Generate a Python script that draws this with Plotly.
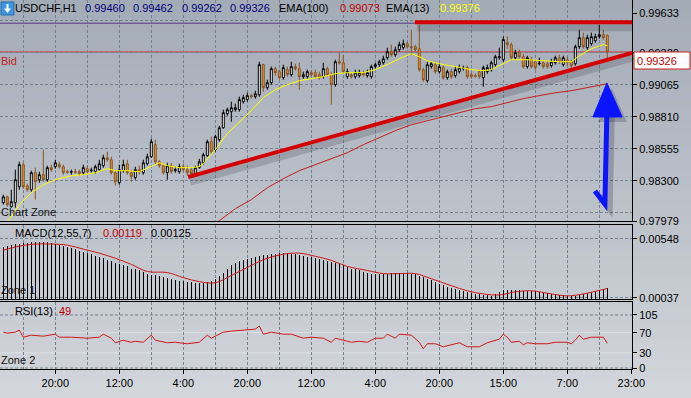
import plotly.graph_objects as go

# ---------------- data ----------------
bar_index = list(range(152))

opens = [0.98125, 0.98172, 0.98093, 0.98125, 0.98252, 0.98428, 0.98260, 0.98228, 0.98364, 0.98308,
         0.98348, 0.98308, 0.98404, 0.98412, 0.98428, 0.98412, 0.98372, 0.98368, 0.98372, 0.98372,
         0.98364, 0.98396, 0.98380, 0.98372, 0.98388, 0.98420, 0.98483, 0.98467, 0.98364, 0.98284,
         0.98380, 0.98435, 0.98364, 0.98324, 0.98388, 0.98364, 0.98435, 0.98491, 0.98587, 0.98451,
         0.98420, 0.98364, 0.98420, 0.98380, 0.98372, 0.98412, 0.98388, 0.98388, 0.98356, 0.98404,
         0.98443, 0.98499, 0.98611, 0.98547, 0.98627, 0.98722, 0.98834, 0.98850, 0.98866, 0.98866,
         0.98930, 0.98946, 0.98978, 0.98970, 0.98985, 0.99225, 0.99041, 0.99081, 0.99193, 0.99169,
         0.99121, 0.99185, 0.99145, 0.99209, 0.99193, 0.99129, 0.99129, 0.99161, 0.99161, 0.99145,
         0.99129, 0.99193, 0.99145, 0.99065, 0.99248, 0.99240, 0.99129, 0.99145, 0.99129, 0.99137,
         0.99161, 0.99137, 0.99129, 0.99209, 0.99225, 0.99240, 0.99280, 0.99328, 0.99304, 0.99344,
         0.99360, 0.99392, 0.99368, 0.99368, 0.99352, 0.99185, 0.99097, 0.99209, 0.99225, 0.99169,
         0.99201, 0.99121, 0.99169, 0.99137, 0.99169, 0.99193, 0.99201, 0.99145, 0.99137, 0.99169,
         0.99121, 0.99169, 0.99185, 0.99225, 0.99280, 0.99264, 0.99400, 0.99384, 0.99280, 0.99320,
         0.99288, 0.99209, 0.99264, 0.99248, 0.99232, 0.99240, 0.99232, 0.99217, 0.99240, 0.99280,
         0.99225, 0.99264, 0.99248, 0.99232, 0.99368, 0.99440, 0.99360, 0.99392, 0.99416, 0.99448,
         0.99464, 0.99460]

highs = [0.98188, 0.98180, 0.98228, 0.98388, 0.98451, 0.98443, 0.98276, 0.98380, 0.98404, 0.98372,
         0.98547, 0.98420, 0.98428, 0.98467, 0.98451, 0.98428, 0.98388, 0.98388, 0.98396, 0.98388,
         0.98428, 0.98420, 0.98404, 0.98428, 0.98467, 0.98507, 0.98531, 0.98491, 0.98388, 0.98428,
         0.98467, 0.98467, 0.98388, 0.98412, 0.98420, 0.98467, 0.98515, 0.98635, 0.98627, 0.98467,
         0.98435, 0.98443, 0.98443, 0.98412, 0.98435, 0.98435, 0.98420, 0.98404, 0.98420, 0.98475,
         0.98523, 0.98627, 0.98651, 0.98667, 0.98738, 0.98866, 0.98882, 0.98930, 0.98914, 0.98970,
         0.98985, 0.99001, 0.98993, 0.99017, 0.99248, 0.99232, 0.99105, 0.99209, 0.99209, 0.99185,
         0.99225, 0.99209, 0.99248, 0.99232, 0.99240, 0.99169, 0.99185, 0.99177, 0.99185, 0.99169,
         0.99240, 0.99209, 0.99169, 0.99264, 0.99320, 0.99304, 0.99193, 0.99161, 0.99185, 0.99185,
         0.99177, 0.99185, 0.99225, 0.99240, 0.99264, 0.99296, 0.99360, 0.99384, 0.99368, 0.99408,
         0.99424, 0.99408, 0.99503, 0.99384, 0.99543, 0.99201, 0.99248, 0.99248, 0.99248, 0.99232,
         0.99217, 0.99185, 0.99193, 0.99209, 0.99225, 0.99217, 0.99217, 0.99161, 0.99153, 0.99185,
         0.99217, 0.99225, 0.99256, 0.99304, 0.99360, 0.99448, 0.99448, 0.99400, 0.99344, 0.99344,
         0.99312, 0.99296, 0.99288, 0.99264, 0.99280, 0.99256, 0.99256, 0.99272, 0.99296, 0.99304,
         0.99296, 0.99288, 0.99264, 0.99384, 0.99503, 0.99480, 0.99464, 0.99480, 0.99472, 0.99543,
         0.99503, 0.99462]

lows = [0.98109, 0.98093, 0.98085, 0.98085, 0.98228, 0.98236, 0.98212, 0.98212, 0.98149, 0.98284,
        0.98292, 0.98292, 0.98372, 0.98396, 0.98396, 0.98348, 0.98356, 0.98348, 0.98356, 0.98340,
        0.98348, 0.98356, 0.98364, 0.98356, 0.98380, 0.98404, 0.98451, 0.98348, 0.98260, 0.98268,
        0.98364, 0.98348, 0.98292, 0.98308, 0.98348, 0.98348, 0.98420, 0.98483, 0.98435, 0.98404,
        0.98348, 0.98308, 0.98356, 0.98364, 0.98356, 0.98372, 0.98340, 0.98340, 0.98348, 0.98396,
        0.98428, 0.98491, 0.98515, 0.98531, 0.98611, 0.98714, 0.98818, 0.98770, 0.98850, 0.98850,
        0.98914, 0.98930, 0.98954, 0.98954, 0.98970, 0.99009, 0.99025, 0.99065, 0.99137, 0.99105,
        0.99105, 0.99129, 0.99129, 0.99177, 0.99025, 0.99113, 0.99113, 0.99129, 0.99113, 0.99105,
        0.99113, 0.99129, 0.98906, 0.99049, 0.99225, 0.99153, 0.99113, 0.99113, 0.99113, 0.99121,
        0.99129, 0.99121, 0.99113, 0.99193, 0.99209, 0.99225, 0.99264, 0.99288, 0.99288, 0.99328,
        0.99344, 0.99352, 0.99304, 0.99328, 0.99169, 0.99089, 0.99081, 0.99193, 0.99153, 0.99153,
        0.99105, 0.99105, 0.99113, 0.99121, 0.99153, 0.99177, 0.99113, 0.99113, 0.99121, 0.99113,
        0.99049, 0.99153, 0.99169, 0.99209, 0.99264, 0.99248, 0.99352, 0.99264, 0.99264, 0.99272,
        0.99193, 0.99193, 0.99193, 0.99185, 0.99217, 0.99193, 0.99193, 0.99201, 0.99225, 0.99232,
        0.99209, 0.99217, 0.99201, 0.99217, 0.99352, 0.99352, 0.99344, 0.99376, 0.99400, 0.99432,
        0.99424, 0.99262]

closes = [0.98172, 0.98109, 0.98133, 0.98308, 0.98428, 0.98252, 0.98228, 0.98364, 0.98292, 0.98348,
          0.98308, 0.98404, 0.98388, 0.98443, 0.98412, 0.98364, 0.98368, 0.98372, 0.98368, 0.98356,
          0.98404, 0.98372, 0.98384, 0.98412, 0.98435, 0.98483, 0.98467, 0.98364, 0.98292, 0.98388,
          0.98428, 0.98364, 0.98332, 0.98388, 0.98372, 0.98443, 0.98491, 0.98611, 0.98451, 0.98420,
          0.98364, 0.98420, 0.98372, 0.98388, 0.98412, 0.98388, 0.98364, 0.98356, 0.98404, 0.98451,
          0.98507, 0.98611, 0.98531, 0.98651, 0.98722, 0.98842, 0.98866, 0.98882, 0.98882, 0.98946,
          0.98962, 0.98978, 0.98970, 0.98993, 0.99225, 0.99041, 0.99081, 0.99193, 0.99161, 0.99121,
          0.99201, 0.99145, 0.99209, 0.99193, 0.99129, 0.99145, 0.99169, 0.99145, 0.99129, 0.99121,
          0.99193, 0.99145, 0.99065, 0.99248, 0.99240, 0.99169, 0.99169, 0.99129, 0.99161, 0.99161,
          0.99145, 0.99161, 0.99209, 0.99225, 0.99248, 0.99272, 0.99328, 0.99304, 0.99344, 0.99384,
          0.99392, 0.99368, 0.99360, 0.99344, 0.99185, 0.99105, 0.99225, 0.99232, 0.99169, 0.99209,
          0.99121, 0.99169, 0.99129, 0.99185, 0.99201, 0.99197, 0.99129, 0.99129, 0.99133, 0.99129,
          0.99201, 0.99201, 0.99240, 0.99288, 0.99288, 0.99424, 0.99384, 0.99280, 0.99320, 0.99288,
          0.99209, 0.99280, 0.99209, 0.99201, 0.99236, 0.99209, 0.99209, 0.99248, 0.99280, 0.99248,
          0.99280, 0.99240, 0.99217, 0.99368, 0.99440, 0.99368, 0.99440, 0.99448, 0.99448, 0.99464,
          0.99440, 0.99326]

ema13_bars = [0, 2, 4, 7, 10, 13, 17, 20, 23, 26, 28, 31, 34, 37, 39, 41, 44, 47, 49, 50, 53, 56, 59,
              62, 65, 68, 71, 74, 77, 80, 83, 86, 90, 93, 96, 99, 102, 104, 106, 109, 113, 117, 120,
              122, 124, 127, 131, 134, 139, 142, 144, 147, 149, 150, 151]
ema13_values = [0.97939, 0.98013, 0.98109, 0.98204, 0.98268, 0.98308, 0.98340, 0.98348, 0.98364,
                0.98396, 0.98380, 0.98380, 0.98372, 0.98412, 0.98443, 0.98420, 0.98404, 0.98404,
                0.98412, 0.98435, 0.98547, 0.98675, 0.98770, 0.98858, 0.98962, 0.99025, 0.99065,
                0.99097, 0.99113, 0.99129, 0.99153, 0.99161, 0.99161, 0.99185, 0.99225, 0.99272,
                0.99312, 0.99288, 0.99256, 0.99232, 0.99209, 0.99185, 0.99177, 0.99185, 0.99217,
                0.99264, 0.99264, 0.99256, 0.99248, 0.99248, 0.99296, 0.99352, 0.99376, 0.99384,
                0.99376]

ema100_bars = [50, 54, 58, 62, 66, 70, 74, 78, 82, 86, 90, 94, 98, 102, 106, 110, 114, 118, 122,
               126, 130, 134, 138, 142, 146, 151]
ema100_values = [0.97925, 0.97981, 0.98077, 0.98149, 0.98244, 0.98316, 0.98380, 0.98428, 0.98475,
                 0.98523, 0.98587, 0.98643, 0.98699, 0.98746, 0.98778, 0.98810, 0.98842, 0.98874,
                 0.98890, 0.98922, 0.98954, 0.98978, 0.99001, 0.99017, 0.99041, 0.99073]

macd_hist = [0.00478, 0.00486, 0.00495, 0.00504, 0.00504, 0.00513, 0.00513, 0.00522,
             0.00522, 0.00522, 0.00522, 0.00522, 0.00513, 0.00504, 0.00495, 0.00486,
             0.00478, 0.00469, 0.00460, 0.00442, 0.00433, 0.00425, 0.00416, 0.00398,
             0.00389, 0.00381, 0.00363, 0.00354, 0.00337, 0.00328, 0.00319, 0.00310,
             0.00292, 0.00284, 0.00275, 0.00266, 0.00248, 0.00240, 0.00240, 0.00231,
             0.00222, 0.00213, 0.00204, 0.00196, 0.00187, 0.00187, 0.00178, 0.00178,
             0.00169, 0.00169, 0.00169, 0.00178, 0.00187, 0.00204, 0.00231, 0.00257,
             0.00292, 0.00319, 0.00337, 0.00354, 0.00363, 0.00372, 0.00381, 0.00389,
             0.00398, 0.00407, 0.00407, 0.00416, 0.00416, 0.00425, 0.00425, 0.00425,
             0.00416, 0.00416, 0.00407, 0.00398, 0.00389, 0.00389, 0.00381, 0.00372,
             0.00363, 0.00354, 0.00345, 0.00337, 0.00328, 0.00319, 0.00301, 0.00292,
             0.00284, 0.00275, 0.00266, 0.00257, 0.00248, 0.00248, 0.00248, 0.00248,
             0.00248, 0.00257, 0.00257, 0.00257, 0.00257, 0.00257, 0.00248, 0.00248,
             0.00231, 0.00222, 0.00204, 0.00196, 0.00178, 0.00160, 0.00152, 0.00134,
             0.00125, 0.00116, 0.00107, 0.00099, 0.00090, 0.00081, 0.00072, 0.00072,
             0.00063, 0.00063, 0.00055, 0.00072, 0.00090, 0.00107, 0.00107, 0.00107,
             0.00107, 0.00107, 0.00099, 0.00099, 0.00099, 0.00099, 0.00090, 0.00081,
             0.00081, 0.00072, 0.00072, 0.00063, 0.00063, 0.00055, 0.00055, 0.00055,
             0.00063, 0.00072, 0.00081, 0.00090, 0.00099, 0.00107, 0.00116, 0.00125]

macd_signal_bars = [0, 4, 8, 12, 16, 20, 24, 28, 32, 36, 41, 45, 49, 53, 57, 62, 66, 70, 74, 78,
                    82, 86, 91, 95, 99, 103, 107, 112, 116, 120, 124, 128, 132, 137, 141, 145, 151]
macd_signal_values = [0.00451, 0.00486, 0.00504, 0.00504, 0.00495, 0.00460, 0.00425, 0.00381,
                      0.00328, 0.00266, 0.00257, 0.00213, 0.00178, 0.00169, 0.00231, 0.00319,
                      0.00381, 0.00416, 0.00425, 0.00398, 0.00363, 0.00310, 0.00275, 0.00248,
                      0.00248, 0.00248, 0.00204, 0.00143, 0.00099, 0.00072, 0.00063, 0.00090,
                      0.00099, 0.00072, 0.00055, 0.00072, 0.00119]

rsi_bars = [0, 1, 3, 4, 5, 7, 10, 13, 14, 17, 21, 24, 25, 27, 28, 30, 32, 33, 35, 37,
            38, 41, 43, 46, 49, 51, 52, 55, 57, 61, 63, 64, 65, 67, 70, 72, 75, 77, 80, 82,
            83, 86, 87, 89, 91, 93, 95, 96, 98, 99, 102, 104, 105, 106, 108, 110, 112, 114, 116, 119,
            121, 124, 125, 126, 127, 129, 130, 131, 133, 136, 138, 140, 141, 142, 143, 144, 145, 147, 150, 151]
rsi_values = [71, 69, 71, 75, 61, 65, 63, 67, 61, 61, 59, 61, 67, 59, 50, 55, 51, 53, 51, 65,
              55, 50, 51, 48, 51, 65, 59, 71, 73, 75, 77, 83, 67, 71, 67, 67, 59, 61, 59, 51,
              59, 53, 51, 53, 51, 59, 59, 67, 59, 67, 65, 51, 38, 48, 48, 42, 46, 50, 42, 42,
              50, 57, 67, 61, 51, 53, 46, 50, 48, 48, 51, 50, 51, 48, 55, 65, 57, 61, 61, 49]

time_tick_bars = [13, 29, 45, 61, 77, 93, 109, 125, 141, 157]
time_tick_labels = ["20:00", "12:00", "4:00", "20:00", "12:00", "4:00", "20:00", "15:00", "7:00", "23:00"]
time_grid_bars = [5, 21, 37, 53, 69, 85, 101, 117, 133, 149]

price_tick_values = [0.97979, 0.98300, 0.98555, 0.98810, 0.99065, 0.99320, 0.99633]
price_grid_values = [0.98045, 0.98300, 0.98555, 0.98810, 0.99065, 0.99320, 0.99575]
macd_tick_values = [0.00037, 0.00548]
rsi_tick_values = [0, 30, 70, 105]

symbol = "USDCHF,H1"
header_ohlc = ["0.99460", "0.99462", "0.99262", "0.99326"]
bid_price = 0.99326
ema100_last = "0.99073"
ema13_last = "0.99376"
macd_signal_last = "0.00119"
macd_hist_last = "0.00125"
rsi_last = "49"

# drawn objects (anchored in bar / price units)
resistance_price = 0.99563
resistance_start_bar = 102.9
trend_start = (46.2, 0.98330)
trend_end = (157.175, 0.99318)
arrow_hook = (147.9, 0.98218)
arrow_tail = (150.4, 0.98114)
arrow_neck = (150.9, 0.98848)
arrow_tip = (150.9, 0.99079)
arrow_base_l = (147.4, 0.98808)
arrow_base_r = (154.7, 0.98808)

# ---------------- layout geometry ----------------
W, H = 691, 398
PW, PH = 632, 369          # plot area
XR = [-0.825, 157.175]
MAIN_R = [0.97979, 0.99740]
MACD_R = [0.00028, 0.00669]
RSI_R = [-1.98, 130.7]
FONT = "Liberation Sans, Arial, sans-serif"
GRID = "#76818f"
DASH = "3px,2px"


def pxx(x):
    return x / PW


def pxy(y):
    return (PH - y) / PH


fig = go.Figure()

fig.add_trace(go.Candlestick(
    x=bar_index, open=opens, high=highs, low=lows, close=closes,
    increasing=dict(line=dict(color="#000000", width=1), fillcolor="#ffffff"),
    decreasing=dict(line=dict(color="#8a5420", width=1), fillcolor="#e8962a"),
    xaxis="x", yaxis="y", hoverinfo="skip"))
fig.add_trace(go.Scatter(x=ema100_bars, y=ema100_values, mode="lines",
                         line=dict(color="#c81e1e", width=1), xaxis="x", yaxis="y"))
fig.add_trace(go.Scatter(x=ema13_bars, y=ema13_values, mode="lines",
                         line=dict(color="#ffff00", width=1), xaxis="x", yaxis="y"))
fig.add_trace(go.Scatter(x=[], y=[], xaxis="x", yaxis="y4"))

fig.add_trace(go.Bar(x=bar_index, y=macd_hist, width=0.22, marker=dict(color="#000000", line=dict(width=0)),
                     xaxis="x2", yaxis="y2"))
fig.add_trace(go.Scatter(x=macd_signal_bars, y=macd_signal_values, mode="lines",
                         line=dict(color="#d01818", width=1, shape="spline"), xaxis="x2", yaxis="y2"))

fig.add_trace(go.Scatter(x=rsi_bars, y=rsi_values, mode="lines",
                         line=dict(color="#d01818", width=1), xaxis="x3", yaxis="y3"))

# ---------------- shapes ----------------
shapes = []
# window gradient background
N = 60
top_c = (163, 171, 183)
bot_c = (211, 214, 219)
for k in range(N):
    t = (k + 0.5) / N
    c = tuple(int(round(top_c[j] + (bot_c[j] - top_c[j]) * t)) for j in range(3))
    y0 = k * H / N
    y1 = (k + 1) * H / N + 0.5
    shapes.append(dict(type="rect", xref="paper", yref="paper", x0=0, x1=W / PW,
                       y0=pxy(y1), y1=pxy(y0), fillcolor="rgb(%d,%d,%d)" % c,
                       line=dict(width=0), layer="below"))

# RSI level lines
for lv, st in [(105, "dash"), (0, "dash"), (70, "solid"), (30, "solid")]:
    if st == "dash":
        shapes.append(dict(type="line", xref="x3", yref="y3", x0=XR[0], x1=XR[1], y0=lv, y1=lv,
                           line=dict(color=GRID, width=1, dash=DASH), layer="below"))
    else:
        shapes.append(dict(type="line", xref="x3", yref="y3", x0=XR[0], x1=XR[1], y0=lv, y1=lv,
                           line=dict(color="rgba(222,225,230,0.9)", width=1), layer="below"))

# bid line
shapes.append(dict(type="line", xref="x", yref="y", x0=XR[0], x1=XR[1], y0=bid_price, y1=bid_price,
                   line=dict(color="#d03030", width=1), layer="below"))
# purple old level
shapes.append(dict(type="line", xref="x", yref="y", x0=XR[0], x1=resistance_start_bar,
                   y0=resistance_price - 0.00008, y1=resistance_price - 0.00008,
                   line=dict(color="#5a3a8a", width=1), layer="above"))
# shadows of drawn lines
sh = "rgba(60,60,75,0.22)"
shapes.append(dict(type="line", xref="x", yref="y", x0=resistance_start_bar + 0.5, x1=XR[1],
                   y0=resistance_price - 0.00045, y1=resistance_price - 0.00045,
                   line=dict(color=sh, width=7), layer="above"))
shapes.append(dict(type="line", xref="x", yref="y", x0=trend_start[0] + 0.5, x1=trend_end[0],
                   y0=trend_start[1] - 0.00042, y1=trend_end[1] - 0.00042,
                   line=dict(color=sh, width=7), layer="above"))
# resistance & trend lines
shapes.append(dict(type="line", xref="x", yref="y", x0=resistance_start_bar, x1=XR[1],
                   y0=resistance_price, y1=resistance_price,
                   line=dict(color="#d40000", width=4), layer="above"))
shapes.append(dict(type="line", xref="x", yref="y", x0=trend_start[0], x1=trend_end[0],
                   y0=trend_start[1], y1=trend_end[1],
                   line=dict(color="#d40000", width=4), layer="above"))


def pth(points, close=False):
    s = "M " + " L ".join("%.4f,%.6f" % p for p in points)
    return s + (" Z" if close else "")


dx, dy = 1.2, -0.00040
shift = lambda p: (p[0] + dx, p[1] + dy)
shapes.append(dict(type="path", xref="x", yref="y",
                   path=pth([shift(arrow_hook), shift(arrow_tail), shift(arrow_neck)]),
                   line=dict(color="rgba(40,40,60,0.25)", width=6), layer="above"))
shapes.append(dict(type="path", xref="x", yref="y",
                   path=pth([shift(arrow_base_l), shift(arrow_tip), shift(arrow_base_r)], True),
                   fillcolor="rgba(40,40,60,0.25)", line=dict(width=0), layer="above"))
shapes.append(dict(type="path", xref="x", yref="y",
                   path=pth([arrow_hook, arrow_tail, arrow_neck]),
                   line=dict(color="#0a14ff", width=5), layer="above"))
shapes.append(dict(type="path", xref="x", yref="y",
                   path=pth([arrow_base_l, arrow_tip, arrow_base_r], True),
                   fillcolor="#0a14ff", line=dict(color="#0a14ff", width=1), layer="above"))

# bid price box
shapes.append(dict(type="rect", xref="paper", yref="paper", x0=pxx(634), x1=pxx(690),
                   y0=pxy(69), y1=pxy(52), fillcolor="#ffffff",
                   line=dict(color="#c82020", width=1), layer="above"))
# header icon
shapes.append(dict(type="rect", xref="paper", yref="paper", x0=pxx(1), x1=pxx(14),
                   y0=pxy(15), y1=pxy(2), fillcolor="#3d95dc",
                   line=dict(color="#2a6fb0", width=1), layer="above"))
shapes.append(dict(type="path", xref="paper", yref="paper",
                   path="M %f,%f L %f,%f L %f,%f L %f,%f L %f,%f L %f,%f L %f,%f Z" % (
                       pxx(6.5), pxy(4), pxx(8.5), pxy(4), pxx(8.5), pxy(8.5), pxx(11), pxy(8.5),
                       pxx(7.5), pxy(13), pxx(4), pxy(8.5), pxx(6.5), pxy(8.5)),
                   fillcolor="#ffffff", line=dict(width=0), layer="above"))

# ---------------- annotations ----------------
ann = []


def label(text, x, y, color="#000000", size=11, anchor="left"):
    ann.append(dict(text=text, x=pxx(x), y=pxy(y), xref="paper", yref="paper",
                    xanchor=anchor, yanchor="middle", showarrow=False,
                    font=dict(family=FONT, size=size, color=color), borderpad=0))


label(symbol, 14, 8)
for txt, x in zip(header_ohlc, [84, 132, 181, 229]):
    label(txt, x, 8, "#00007a")
label("EMA(100)", 278, 8)
label(ema100_last, 339, 8, "#c00000")
label("EMA(13)", 385, 8)
label(ema13_last, 439, 8, "#ffff00")
label("Bid", 0, 61, "#c02020")
label("Chart Zone", 0, 212, "#101010")
label("MACD(12,55,7)", 14, 233)
label(macd_signal_last, 102, 233, "#c00000")
label(macd_hist_last, 150, 233)
label("Zone 1", 0, 290, "#101010")
label("RSI(13)", 14, 311)
label(rsi_last, 58, 311, "#c00000")
label("Zone 2", 0, 360, "#101010")
label("%.5f" % bid_price, 636, 61.5, "#c00000")

# ---------------- axes ----------------
tickfont = dict(family=FONT, size=11, color="#000000")
STAND = 0
xcommon = dict(range=XR, type="linear", tickvals=time_tick_bars, showgrid=True, gridcolor=GRID,
               griddash=DASH, gridwidth=1, zeroline=False, showline=True, mirror=True,
               linecolor="#000000", linewidth=1,
               minor=dict(tickvals=time_grid_bars, showgrid=True, gridcolor=GRID, griddash=DASH,
                          ticks=""))

fig.update_layout(
    width=W, height=H, margin=dict(l=0, r=W - PW, t=0, b=H - PH),
    paper_bgcolor="#b8bec7", plot_bgcolor="rgba(0,0,0,0)",
    showlegend=False, hovermode=False, bargap=0,
    xaxis=dict(domain=[0, 1], anchor="y", showticklabels=False, ticks="",
               rangeslider=dict(visible=False), **xcommon),
    xaxis2=dict(domain=[0, 1], anchor="y2", showticklabels=False, ticks="", **xcommon),
    xaxis3=dict(domain=[0, 1], anchor="y3", showticklabels=True, ticktext=time_tick_labels,
                ticks="outside", ticklen=4, tickcolor="#000000", tickfont=tickfont, **xcommon),
    yaxis=dict(domain=[pxy(221), 1], anchor="x", range=MAIN_R, side="right",
               tickvals=price_grid_values, showticklabels=False, ticks="",
               showgrid=True, gridcolor=GRID, griddash=DASH, zeroline=False,
               showline=True, linecolor="#000000", linewidth=1),
    yaxis4=dict(overlaying="y", anchor="x", range=MAIN_R, side="right",
                tickvals=price_tick_values, ticktext=["%.5f" % v for v in price_tick_values],
                ticks="outside", ticklen=4, tickcolor="#000000", tickfont=tickfont,
                ticklabelstandoff=STAND,
                showgrid=False, zeroline=False, showline=False),
    yaxis2=dict(domain=[pxy(299), pxy(225)], anchor="x2", range=MACD_R, side="right",
                tickvals=macd_tick_values, ticktext=["%.5f" % v for v in macd_tick_values],
                ticks="outside", ticklen=4, tickcolor="#000000", tickfont=tickfont,
                ticklabelstandoff=STAND,
                showgrid=True, gridcolor=GRID, griddash=DASH, zeroline=False,
                showline=True, linecolor="#000000", linewidth=1),
    yaxis3=dict(domain=[0, pxy(302)], anchor="x3", range=RSI_R, side="right",
                tickvals=rsi_tick_values, ticks="outside", ticklen=4, tickcolor="#000000",
                tickfont=tickfont, ticklabelstandoff=STAND, showgrid=False, zeroline=False,
                showline=True, linecolor="#000000", linewidth=1),
    shapes=shapes, annotations=ann,
)

fig.write_html("out.html",
               config={"displayModeBar": False, "staticPlot": True},
               post_script="document.body.style.margin='0';document.body.style.padding='0';"
                           "document.body.style.overflow='hidden';")
